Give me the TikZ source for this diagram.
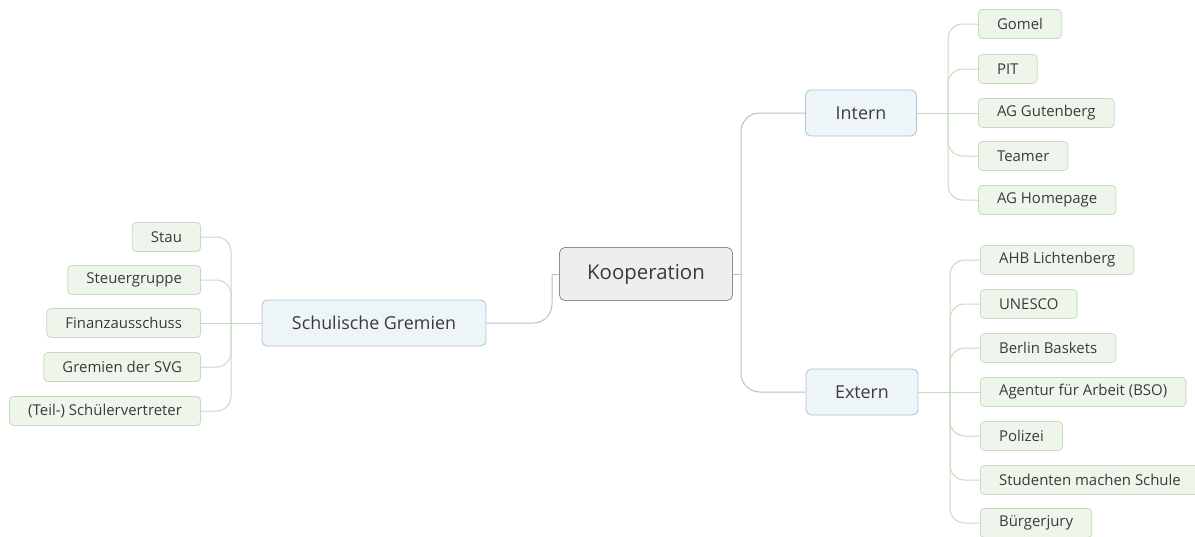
\documentclass[tikz,border=0pt]{standalone}
\usepackage{fontspec}
\setmainfont{Open Sans}
\usetikzlibrary{positioning}
\definecolor{inkgray}{HTML}{3A3A3A}
\definecolor{rootfill}{HTML}{EEEEEE}
\definecolor{rootline}{HTML}{8E8E8E}
\definecolor{topicfill}{HTML}{EDF5F9}
\definecolor{topicline}{HTML}{A9C3D3}
\definecolor{leaffill}{HTML}{EEF6EC}
\definecolor{leafline}{HTML}{C6DCC1}
\begin{document}
\begin{tikzpicture}[x=0.75pt, y=-0.75pt,
  root/.style={draw=rootline, fill=rootfill, rounded corners=4pt, line width=0.6pt,
    minimum width=129.75pt, minimum height=39.75pt, text=inkgray, font=\fontsize{15.3}{18}\selectfont},
  topic/.style={draw=topicline, fill=topicfill, rounded corners=4pt, line width=0.6pt,
    minimum height=34.5pt, text=inkgray, font=\fontsize{13.4}{16}\selectfont},
  leaf/.style={draw=leafline, fill=leaffill, rounded corners=3pt, line width=0.6pt,
    minimum height=21.75pt, inner xsep=14pt, text=inkgray, font=\fontsize{11.2}{13}\selectfont},
  trunk/.style={draw=topicline, line width=0.75pt, rounded corners=14pt},
  twig/.style={draw=leafline, line width=0.75pt, rounded corners=11pt}]
  \useasboundingbox (0,0) rectangle (1195,536);
  \node[root] (koop) at (646,274) {Kooperation};
  \node[topic, minimum width=83.25pt] (intern) at (861,113) {Intern};
  \node[topic, minimum width=84pt] (extern) at (862,392) {Extern};
  \node[topic, minimum width=168pt] (gremien) at (374,323) {Schulische Gremien};
  \node[leaf, anchor=west] (gomel) at (978,24) {Gomel};
  \node[leaf, anchor=west] (pit) at (978,69) {PIT};
  \node[leaf, anchor=west] (gutenberg) at (978,113) {AG Gutenberg};
  \node[leaf, anchor=west] (teamer) at (978,156) {Teamer};
  \node[leaf, anchor=west] (homepage) at (978,200) {AG Homepage};
  \node[leaf, anchor=west] (ahb) at (980,260) {AHB Lichtenberg};
  \node[leaf, anchor=west] (unesco) at (980,304) {UNESCO};
  \node[leaf, anchor=west] (baskets) at (980,348) {Berlin Baskets};
  \node[leaf, anchor=west] (agentur) at (980,392) {Agentur für Arbeit (BSO)};
  \node[leaf, anchor=west] (polizei) at (980,436) {Polizei};
  \node[leaf, anchor=west] (studenten) at (980,480) {Studenten machen Schule};
  \node[leaf, anchor=west] (jury) at (980,523) {Bürgerjury};
  \node[leaf, anchor=east] (stau) at (201,237) {Stau};
  \node[leaf, anchor=east] (steuer) at (201,280) {Steuergruppe};
  \node[leaf, anchor=east] (finanz) at (201,323) {Finanzausschuss};
  \node[leaf, anchor=east] (svg) at (201,367) {Gremien der SVG};
  \node[leaf, anchor=east] (sv) at (201,411) {(Teil-) Schülervertreter};
  \coordinate (kr) at (741,274);
  \coordinate (kl) at (552,274);
  \coordinate (ib) at (948,113);
  \coordinate (eb) at (950,392);
  \coordinate (gb) at (231,323);
  \draw[trunk] (koop.east) -- (kr);
  \draw[trunk] (kr) |- (intern.west);
  \draw[trunk] (kr) |- (extern.west);
  \draw[trunk] (koop.west) -- (kl);
  \draw[trunk] (kl) |- (gremien.east);
  \draw[twig] (intern.east) -- (gutenberg.west);
  \foreach \leafname in {gomel, pit, teamer, homepage}
    \draw[twig] (ib) |- (\leafname.west);
  \draw[twig] (extern.east) -- (agentur.west);
  \foreach \leafname in {ahb, unesco, baskets, polizei, studenten, jury}
    \draw[twig] (eb) |- (\leafname.west);
  \draw[twig] (gremien.west) -- (finanz.east);
  \foreach \leafname in {stau, steuer, svg, sv}
    \draw[twig] (gb) |- (\leafname.east);
\end{tikzpicture}
\end{document}
